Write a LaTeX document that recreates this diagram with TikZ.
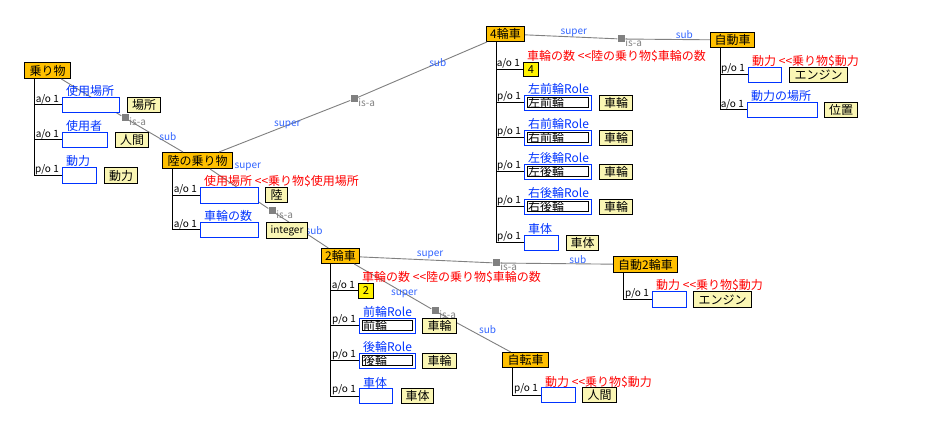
\documentclass[tikz,border=0pt]{standalone}
\usepackage{fontspec}
\setmainfont{Noto Sans CJK JP}
\usepackage{tikz}
\definecolor{conceptc}{RGB}{255,192,0}
\definecolor{classc}{RGB}{250,246,180}
\definecolor{slotblue}{RGB}{0,51,255}
\definecolor{linkblue}{RGB}{51,102,255}
\definecolor{linkgray}{RGB}{128,128,128}
\newcommand{\fsz}[1]{\fontsize{#1}{#1}\selectfont}

\begin{document}
\begin{tikzpicture}[x=1pt,y=-1pt,
    concept/.style={draw=black,fill=conceptc,line width=1pt,inner sep=0pt,anchor=north west,font=\fsz{12}},
    slot/.style={draw=slotblue,fill=white,line width=1pt,inner sep=0pt,anchor=north west,minimum height=15pt},
    cls/.style={draw=black,fill=classc,line width=1pt,inner sep=0pt,anchor=north west,minimum height=15pt,font=\fsz{12}},
    val/.style={draw=black,fill=yellow,line width=1pt,inner sep=0pt,anchor=north west,font=\fsz{11}},
    role/.style={draw=black,fill=white,line width=1pt,inner sep=0pt,anchor=west,minimum height=10pt,
                 label={[inner sep=1pt,anchor=west,font=\fsz{12}]west:#1}},
    slotlbl/.style={inner sep=0pt,anchor=base west,xshift=4pt,yshift=1pt,font=\fsz{12}},
    sname/.style={label={[slotlbl,text=slotblue]north west:#1}},
    rname/.style={label={[slotlbl,text=red]north west:#1}},
    card/.style={label={[inner sep=1pt,anchor=south east,xshift=-2pt,font=\fsz{10}]west:#1}},
    tree/.style={draw=black,line width=1pt},
    isa/.style={draw=linkgray,line width=0.9pt},
    sq/.style={fill=linkgray,minimum size=7pt,inner sep=0pt,
               label={[text=linkgray,font=\fsz{10},inner sep=0.5pt,anchor=west]south east:is-a}},
    linklbl/.style={text=linkblue,font=\fsz{10},inner sep=1pt}
]
\path[fill=white,use as bounding box] (0,0) rectangle (932,446);

% concepts
\node[concept,minimum width=46pt,minimum height=16pt] (c1) at (24,62)   {乗り物};
\node[concept,minimum width=70pt,minimum height=16pt] (c2) at (162,152) {陸の乗り物};
\node[concept,minimum width=38pt,minimum height=15pt] (c3) at (486,26)  {4輪車};
\node[concept,minimum width=44pt,minimum height=15pt] (c4) at (710,32)  {自動車};
\node[concept,minimum width=38pt,minimum height=15pt] (c5) at (321,248) {2輪車};
\node[concept,minimum width=64pt,minimum height=16pt] (c6) at (613,256) {自動2輪車};
\node[concept,minimum width=46pt,minimum height=15pt] (c7) at (502,352) {自転車};

% is-a links
\node[sq] (q1) at (125,118) {};
\node[sq] (q2) at (354,99)  {};
\node[sq] (q3) at (272,211) {};
\node[sq] (q4) at (621,39)  {};
\node[sq] (q5) at (496,263) {};
\node[sq] (q6) at (435,311) {};
\draw[isa] (c1) -- (q1) -- node[linklbl,pos=.72,above=1pt] {sub} (c2);
\draw[isa] (c2) -- node[linklbl,pos=.52] {super} (q2) -- node[linklbl,pos=.62] {sub} (c3);
\draw[isa] (c2) -- node[linklbl,pos=.65,above=22pt] {super} (q3) -- node[linklbl,pos=.73,above=3pt] {sub} (c5);
\draw[isa] (c3) -- node[linklbl,pos=.53,above=-1pt] {super} (q4) -- node[linklbl,pos=.7,above=-1pt] {sub} (c4);
\draw[isa] (c5) -- node[linklbl,pos=.53,above=0pt] {super} (q5) -- node[linklbl,pos=.69,above=-1pt] {sub} (c6);
\draw[isa] (c5) -- node[linklbl,pos=.65,above=-6pt] {super} (q6) -- node[linklbl,pos=.68,above=4pt] {sub} (c7);

% 乗り物
\node[slot,minimum width=57pt,sname=使用場所,card=a/o 1] (s11) at (62,97)  {};
\node[slot,minimum width=45pt,sname=使用者,card=a/o 1]   (s12) at (62,132) {};
\node[slot,minimum width=34pt,minimum height=16pt,sname=動力,card=p/o 1] (s13) at (62,167) {};
\node[cls,minimum width=33pt] (k11) at (127,97)  {場所};
\node[cls,minimum width=33pt] (k12) at (115,132) {人間};
\node[cls,minimum width=33pt,minimum height=16pt] (k13) at (104,167) {動力};
\draw[tree] ([xshift=10pt]c1.south west) |- (s11.west)
            ([xshift=10pt]c1.south west) |- (s12.west)
            ([xshift=10pt]c1.south west) |- (s13.west);

% 陸の乗り物
\node[slot,minimum width=58pt,minimum height=16pt,rname={使用場所 <{}<乗り物\$使用場所},card=a/o 1] (s21) at (200,187) {};
\node[slot,minimum width=58pt,sname=車輪の数,card=a/o 1] (s22) at (200,222) {};
\node[cls,minimum width=22pt] (k21) at (265,187) {陸};
\node[cls,minimum width=41pt,minimum height=16pt,font=\fsz{10}] (k22) at (266,222) {integer};
\draw[tree] ([xshift=10pt]c2.south west) |- (s21.west)
            ([xshift=10pt]c2.south west) |- (s22.west);

% 4輪車
\node[val,minimum width=15pt,minimum height=14pt,rname={車輪の数 <{}<陸の乗り物\$車輪の数},card=a/o 1] (s31) at (523,62) {4};
\node[slot,minimum width=67pt,sname=左前輪Role,card=p/o 1] (s32) at (524,95)  {};
\node[slot,minimum width=67pt,sname=右前輪Role,card=p/o 1] (s33) at (524,130) {};
\node[slot,minimum width=67pt,sname=左後輪Role,card=p/o 1] (s34) at (524,164) {};
\node[slot,minimum width=67pt,sname=右後輪Role,card=p/o 1] (s35) at (524,199) {};
\node[slot,minimum width=34pt,sname=車体,card=p/o 1]       (s36) at (524,235) {};
\node[role=左前輪,minimum width=61pt] (r32) at ([xshift=3pt]s32.west) {};
\node[role=右前輪,minimum width=61pt] (r33) at ([xshift=3pt]s33.west) {};
\node[role=左後輪,minimum width=61pt] (r34) at ([xshift=3pt]s34.west) {};
\node[role=右後輪,minimum width=61pt] (r35) at ([xshift=3pt]s35.west) {};
\node[cls,minimum width=33pt] (k32) at (599,95)  {車輪};
\node[cls,minimum width=33pt] (k33) at (599,130) {車輪};
\node[cls,minimum width=33pt] (k34) at (599,164) {車輪};
\node[cls,minimum width=33pt] (k35) at (599,199) {車輪};
\node[cls,minimum width=32pt] (k36) at (566,235) {車体};
\draw[tree] ([xshift=10pt]c3.south west) |- (s31.west)
            ([xshift=10pt]c3.south west) |- (s32.west)
            ([xshift=10pt]c3.south west) |- (s33.west)
            ([xshift=10pt]c3.south west) |- (s34.west)
            ([xshift=10pt]c3.south west) |- (s35.west)
            ([xshift=10pt]c3.south west) |- (s36.west);

% 自動車
\node[slot,minimum width=33pt,rname={動力 <{}<乗り物\$動力},card=p/o 1] (s41) at (748,67) {};
\node[slot,minimum width=70pt,sname=動力の場所,card=a/o 1] (s42) at (747,102) {};
\node[cls,minimum width=58pt] (k41) at (789,67)  {エンジン};
\node[cls,minimum width=33pt] (k42) at (824,102) {位置};
\draw[tree] ([xshift=10pt]c4.south west) |- (s41.west)
            ([xshift=10pt]c4.south west) |- (s42.west);

% 2輪車
\node[val,minimum width=15pt,minimum height=15pt,rname={車輪の数 <{}<陸の乗り物\$車輪の数},card=a/o 1] (s51) at (358,283) {2};
\node[slot,minimum width=56pt,sname=前輪Role,card=p/o 1] (s52) at (359,318) {};
\node[slot,minimum width=56pt,sname=後輪Role,card=p/o 1] (s53) at (359,353) {};
\node[slot,minimum width=33pt,sname=車体,card=p/o 1]     (s54) at (359,388) {};
\node[role=前輪,minimum width=50pt] (r52) at ([xshift=3pt]s52.west) {};
\node[role=後輪,minimum width=50pt] (r53) at ([xshift=3pt]s53.west) {};
\node[cls,minimum width=34pt] (k52) at (422,318) {車輪};
\node[cls,minimum width=34pt] (k53) at (422,353) {車輪};
\node[cls,minimum width=32pt] (k54) at (401,388) {車体};
\draw[tree] ([xshift=9pt]c5.south west) |- (s51.west)
            ([xshift=9pt]c5.south west) |- (s52.west)
            ([xshift=9pt]c5.south west) |- (s53.west)
            ([xshift=9pt]c5.south west) |- (s54.west);

% 自動2輪車
\node[slot,minimum width=34pt,minimum height=16pt,rname={動力 <{}<乗り物\$動力},card=p/o 1] (s61) at (652,291) {};
\node[cls,minimum width=58pt,minimum height=16pt] (k61) at (693,291) {エンジン};
\draw[tree] ([xshift=10pt]c6.south west) |- (s61.west);

% 自転車
\node[slot,minimum width=34pt,rname={動力 <{}<乗り物\$動力},card=p/o 1] (s71) at (541,387) {};
\node[cls,minimum width=34pt] (k71) at (582,387) {人間};
\draw[tree] ([xshift=10pt]c7.south west) |- (s71.west);
\end{tikzpicture}
\end{document}
